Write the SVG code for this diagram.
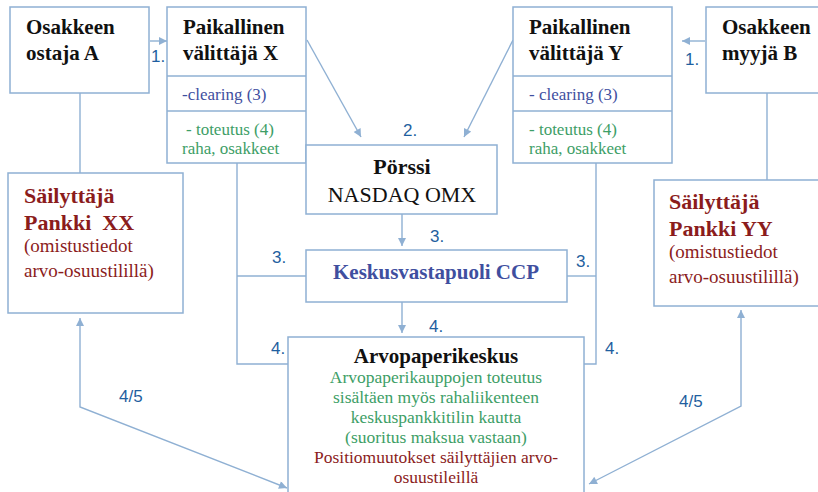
<svg xmlns="http://www.w3.org/2000/svg" width="818" height="492" viewBox="0 0 818 492">
<style>
.box{fill:#fff;stroke:#8fb0d3;stroke-width:1.5}
.ln{fill:none;stroke:#8fb0d3;stroke-width:1.4}
.t{font-family:"Liberation Serif","Times New Roman",serif}
.b{font-weight:bold}
.blk{fill:#111}
.blu{fill:#3f4f9f}
.grn{fill:#3d9e66}
.red{fill:#8b1c1c}
.num{font-family:"Liberation Sans",Arial,sans-serif;font-size:17px;fill:#1f5fa0}
</style>
<defs>
<marker id="ah" viewBox="0 0 10 10" refX="10" refY="5" markerWidth="10" markerHeight="8" markerUnits="userSpaceOnUse" orient="auto-start-reverse">
<path d="M0,0 L10,5 L0,10 z" fill="#8fb0d3"/>
</marker>
</defs>
<rect width="818" height="492" fill="#fff"/>
<g id="connectors">
<line class="ln" x1="150" y1="41" x2="167" y2="41" marker-end="url(#ah)"/>
<line class="ln" x1="705" y1="41" x2="682" y2="41" marker-end="url(#ah)"/>
<line class="ln" x1="80" y1="93" x2="80" y2="173"/>
<line class="ln" x1="767" y1="93" x2="767" y2="180"/>
<line class="ln" x1="307" y1="40" x2="361" y2="137" marker-end="url(#ah)"/>
<line class="ln" x1="513" y1="40" x2="464" y2="137" marker-end="url(#ah)"/>
<line class="ln" x1="402" y1="214" x2="402" y2="246" marker-end="url(#ah)"/>
<line class="ln" x1="402" y1="302" x2="402" y2="333" marker-end="url(#ah)"/>
<polyline class="ln" points="237,163 237,364 288,364"/>
<line class="ln" x1="237" y1="276" x2="306" y2="276"/>
<polyline class="ln" points="596,163 596,364 584,364"/>
<line class="ln" x1="567" y1="276" x2="596" y2="276"/>
<polyline class="ln" points="80,318 80,407 287,488" marker-start="url(#ah)" marker-end="url(#ah)"/>
<polyline class="ln" points="741,310 741,406 589,484" marker-start="url(#ah)" marker-end="url(#ah)"/>
<text class="num" x="151" y="62">1.</text>
<text class="num" x="685" y="65">1.</text>
<text class="num" x="403" y="136">2.</text>
<text class="num" x="430" y="242">3.</text>
<text class="num" x="272" y="263">3.</text>
<text class="num" x="576" y="267">3.</text>
<text class="num" x="429" y="332">4.</text>
<text class="num" x="271" y="354">4.</text>
<text class="num" x="605" y="354">4.</text>
<text class="num" x="119" y="402">4/5</text>
<text class="num" x="679" y="407">4/5</text>
</g>
<g id="ostaja-a">
<rect class="box" x="10" y="7" width="139" height="86"/>
<text class="t b blk" font-size="21" x="26" y="34">Osakkeen</text>
<text class="t b blk" font-size="21" x="26" y="60">ostaja A</text>
</g>
<g id="valittaja-x">
<rect class="box" x="167" y="7" width="139" height="156"/>
<line class="ln" x1="167" y1="76" x2="306" y2="76"/>
<line class="ln" x1="167" y1="111" x2="306" y2="111"/>
<text class="t b blk" font-size="21" x="183" y="34">Paikallinen</text>
<text class="t b blk" font-size="21" x="183" y="60">välittäjä X</text>
<text class="t blu" font-size="17" x="182" y="100">-clearing (3)</text>
<text class="t grn" font-size="17" x="186" y="135">- toteutus (4)</text>
<text class="t grn" font-size="17" x="182" y="154">raha, osakkeet</text>
</g>
<g id="valittaja-y">
<rect class="box" x="513" y="7" width="159" height="156"/>
<line class="ln" x1="513" y1="76" x2="672" y2="76"/>
<line class="ln" x1="513" y1="111" x2="672" y2="111"/>
<text class="t b blk" font-size="21" x="529" y="34">Paikallinen</text>
<text class="t b blk" font-size="21" x="529" y="60">välittäjä Y</text>
<text class="t blu" font-size="17" x="529" y="100">- clearing (3)</text>
<text class="t grn" font-size="17" x="529" y="135">- toteutus (4)</text>
<text class="t grn" font-size="17" x="529" y="154">raha, osakkeet</text>
</g>
<g id="myyja-b">
<rect class="box" x="706" y="7" width="130" height="86"/>
<text class="t b blk" font-size="21" x="722" y="34">Osakkeen</text>
<text class="t b blk" font-size="21" x="722" y="60">myyjä B</text>
</g>
<g id="porssi">
<rect class="box" x="306" y="145" width="191" height="69"/>
<text class="t b blk" font-size="22" x="402" y="174" text-anchor="middle">Pörssi</text>
<text class="t blk" font-size="22" x="402" y="202" text-anchor="middle">NASDAQ OMX</text>
</g>
<g id="ccp">
<rect class="box" x="306" y="250" width="261" height="52"/>
<text class="t b blu" font-size="21" x="436" y="279" text-anchor="middle">Keskusvastapuoli CCP</text>
</g>
<g id="sailyttaja-xx">
<rect class="box" x="8" y="173" width="175" height="140"/>
<text class="t b red" font-size="22" x="24" y="203">Säilyttäjä</text>
<text class="t b red" font-size="22" x="24" y="230" xml:space="preserve">Pankki  XX</text>
<text class="t red" font-size="19" x="24" y="252">(omistustiedot</text>
<text class="t red" font-size="19" x="24" y="277">arvo-osuustilillä)</text>
</g>
<g id="sailyttaja-yy">
<rect class="box" x="654" y="180" width="180" height="126"/>
<text class="t b red" font-size="22" x="669" y="209">Säilyttäjä</text>
<text class="t b red" font-size="22" x="669" y="236">Pankki YY</text>
<text class="t red" font-size="19" x="669" y="258">(omistustiedot</text>
<text class="t red" font-size="19" x="669" y="283">arvo-osuustilillä)</text>
</g>
<g id="arvopaperikeskus">
<rect class="box" x="288" y="337" width="296" height="170"/>
<text class="t b blk" font-size="21" x="436" y="363" text-anchor="middle">Arvopaperikeskus</text>
<text class="t grn" font-size="17.5" x="436" y="383" text-anchor="middle">Arvopaperikauppojen toteutus</text>
<text class="t grn" font-size="17.5" x="436" y="403" text-anchor="middle">sisältäen myös rahaliikenteen</text>
<text class="t grn" font-size="17.5" x="436" y="423" text-anchor="middle">keskuspankkitilin kautta</text>
<text class="t grn" font-size="17.5" x="436" y="443" text-anchor="middle">(suoritus maksua vastaan)</text>
<text class="t red" font-size="17.5" x="436" y="463" text-anchor="middle">Positiomuutokset säilyttäjien arvo-</text>
<text class="t red" font-size="17.5" x="436" y="483" text-anchor="middle">osuustileillä</text>
</g>
</svg>
